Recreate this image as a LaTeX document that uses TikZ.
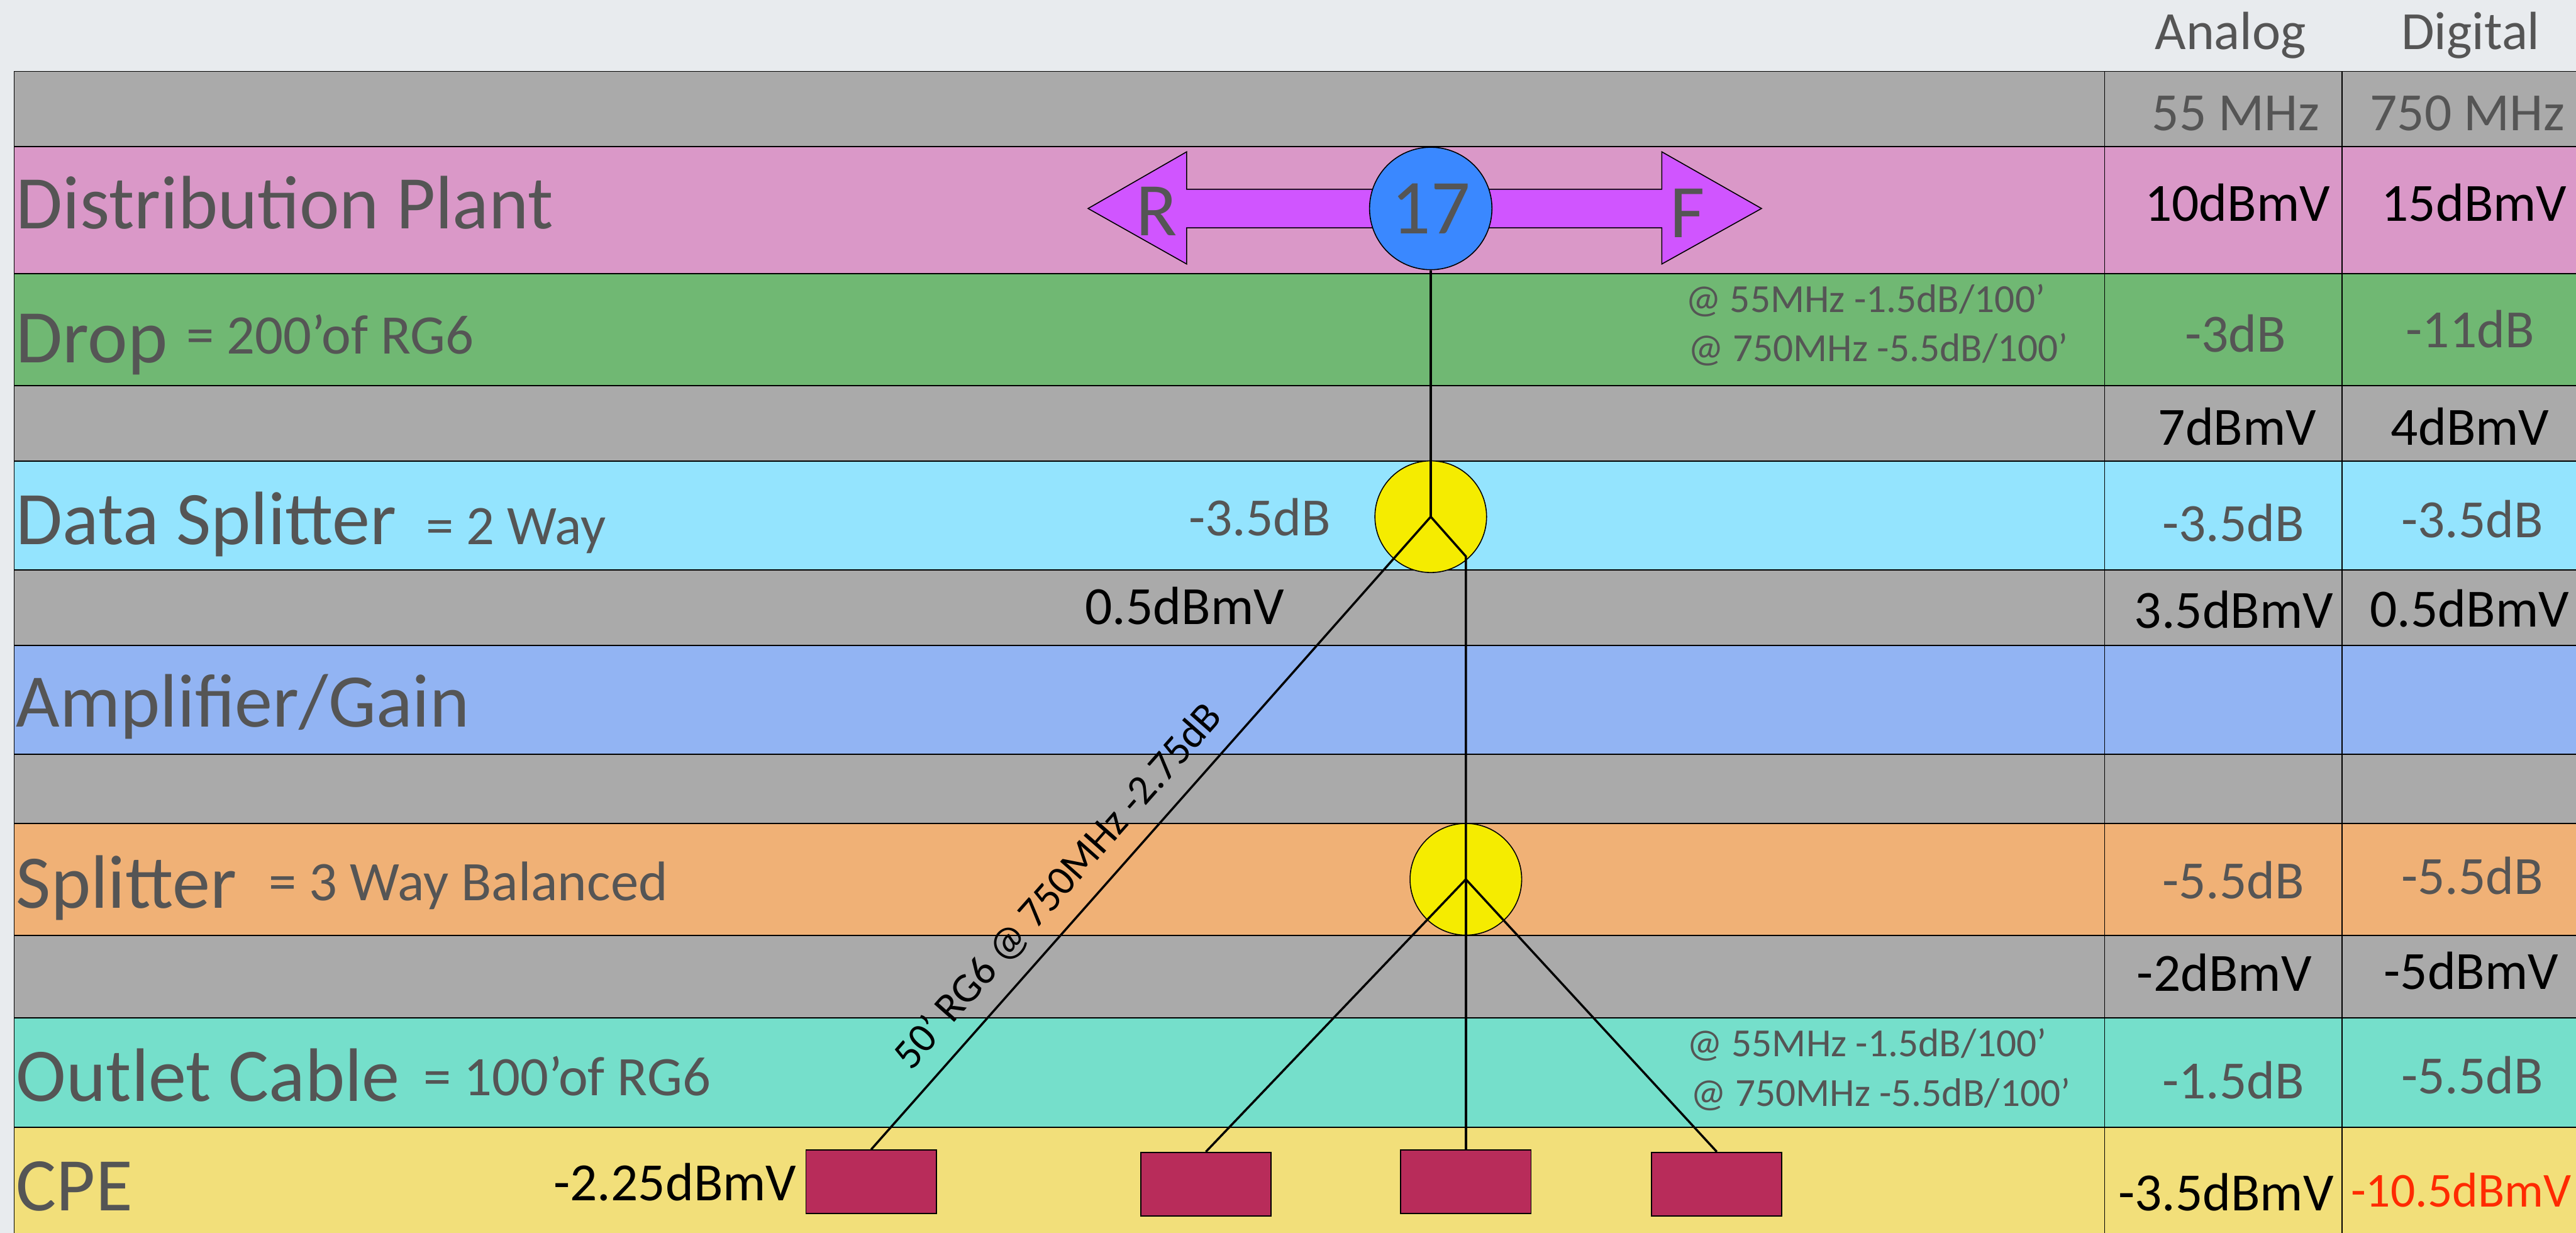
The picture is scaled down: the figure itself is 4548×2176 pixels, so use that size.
\documentclass[tikz,border=0pt]{standalone}
\usepackage{fontspec}
\setmainfont{Carlito}
\usetikzlibrary{positioning}

\definecolor{slidebg}{RGB}{232,235,238}
\definecolor{rowgray}{RGB}{170,170,170}
\definecolor{plantpink}{RGB}{218,152,200}
\definecolor{dropgreen}{RGB}{112,184,115}
\definecolor{splitcyan}{RGB}{148,228,254}
\definecolor{ampblue}{RGB}{146,180,243}
\definecolor{splitorange}{RGB}{240,177,118}
\definecolor{outletteal}{RGB}{117,223,203}
\definecolor{cpeyellow}{RGB}{242,223,122}
\definecolor{arrowviolet}{RGB}{208,85,255}
\definecolor{tapblue}{RGB}{58,136,255}
\definecolor{splityellow}{RGB}{245,236,0}
\definecolor{cpecrimson}{RGB}{184,44,90}
\definecolor{textgray}{RGB}{85,85,85}
\definecolor{warnred}{RGB}{255,42,0}

\begin{document}
\begin{tikzpicture}[x=0.01cm, y=-0.01cm,
    band/.style={draw=black, line width=0.6pt},
    rowname/.style={anchor=base west, inner sep=0pt, text=textgray, font=\fontsize{38}{40}\selectfont},
    spec/.style={inner sep=0pt, text=textgray, font=\fontsize{28}{30}\selectfont},
    dbval/.style={anchor=base, inner sep=0pt, font=\fontsize{27}{29}\selectfont},
    dbloss/.style={dbval, text=textgray},
    dbmv/.style={dbval, text=black},
    cable/.style={anchor=base west, inner sep=0pt, text=textgray, font=\fontsize{20}{22}\selectfont},
    splitter/.style={circle, draw, line width=0.5pt, fill=splityellow, minimum size=1.97cm, inner sep=0pt},
    cpe/.style={rectangle, draw, line width=0.6pt, fill=cpecrimson, minimum width=2.3cm, minimum height=1.12cm, inner sep=0pt},
    wire/.style={draw, line width=1.1pt}]

    \useasboundingbox (0,0) rectangle (4548,2176);
    \clip (0,0) rectangle (4548,2176);
    \fill[slidebg] (0,0) rectangle (4548,2176);

    % table rows
    \draw[band, fill=rowgray] (25,126) rectangle (4600,259);
    \draw[band, fill=plantpink] (25,259) rectangle (4600,483);
    \draw[band, fill=dropgreen] (25,483) rectangle (4600,681);
    \draw[band, fill=rowgray] (25,681) rectangle (4600,814);
    \draw[band, fill=splitcyan] (25,814) rectangle (4600,1006);
    \draw[band, fill=rowgray] (25,1006) rectangle (4600,1139);
    \draw[band, fill=ampblue] (25,1139) rectangle (4600,1331);
    \draw[band, fill=rowgray] (25,1331) rectangle (4600,1453);
    \draw[band, fill=splitorange] (25,1453) rectangle (4600,1651);
    \draw[band, fill=rowgray] (25,1651) rectangle (4600,1797);
    \draw[band, fill=outletteal] (25,1797) rectangle (4600,1990);
    \draw[band, fill=cpeyellow] (25,1990) rectangle (4600,2250);
    \draw[line width=0.4pt] (3716,126) -- (3716,2250);
    \draw[line width=0.4pt] (4135,126) -- (4135,2250);

    % reverse / forward arrow
    \draw[line width=0.5pt, fill=arrowviolet] (1921,368) -- (2095,268) -- (2095,334) -- (2934,334) -- (2934,268)
        -- (3110,368) -- (2934,466) -- (2934,402) -- (2095,402) -- (2095,466) -- cycle;

    \node (tap) [circle, draw, line width=0.5pt, fill=tapblue, minimum size=2.16cm, inner sep=0pt, text=textgray, font=\fontsize{39}{40}\selectfont] at (2526,368) {17};
    \node (dsplit) [splitter] at (2526,912) {};
    \node (tsplit) [splitter] at (2588,1552) {};
    \coordinate (dbend) at (2588,982);
    \node (cpe1) [cpe] at (1538,2086) {};
    \node (cpe2) [cpe] at (2129,2090) {};
    \node (cpe3) [cpe] at (2588,2086) {};
    \node (cpe4) [cpe] at (3031,2090) {};

    \draw[wire] (tap.south) -- (dsplit.center);
    \draw[wire] (dsplit.center) -- (dbend) -- (tsplit.center);
    \draw[wire] (cpe1.north) -- node[sloped, pos=0.38, above=0.28cm, inner sep=0pt, font=\fontsize{21}{22}\selectfont] {50’ RG6 @ 750MHz -2.75dB} (dsplit.center);
    \draw[wire] (tsplit.center) -- (cpe2.north);
    \draw[wire] (tsplit.center) -- (cpe3.north);
    \draw[wire] (tsplit.center) -- (cpe4.north);

    % row names
    \node (plant) [rowname] at (28,404) {Distribution Plant};
    \node (rev) [rowname] at (2005,416) {R};
    \node (fwd) [rowname] at (2948,419) {F};
    \node (drop) [rowname] at (28,640) {Drop};
    \node (dropspec) [spec, base right=0.32cm of drop, yshift=0.15cm] {= 200’of RG6};
    \node (dsname) [rowname] at (28,961) {Data Splitter};
    \node (dsspec) [spec, base right=0.5cm of dsname] {= 2 Way};
    \node (ampname) [rowname] at (28,1283) {Amplifier/Gain};
    \node (tsname) [rowname] at (28,1603) {Splitter};
    \node (tsspec) [spec, base right=0.55cm of tsname, yshift=0.13cm] {= 3 Way Balanced};
    \node (outname) [rowname] at (28,1944) {Outlet Cable};
    \node (outspec) [spec, base right=0.4cm of outname, yshift=0.1cm] {= 100’of RG6};
    \node (cpename) [rowname] at (28,2137) {CPE};

    % cable losses
    \node (dropcab1) [cable] at (2975,551) {@ 55MHz -1.5dB/100’};
    \node (dropcab2) [cable] at (2980,638) {@ 750MHz -5.5dB/100’};
    \node (outcab1) [cable] at (2978,1865) {@ 55MHz -1.5dB/100’};
    \node (outcab2) [cable] at (2984,1952) {@ 750MHz -5.5dB/100’};
    \node (dsloss) [dbloss, anchor=base west] at (2098,946) {-3.5dB};
    \node (dsout) [dbmv, anchor=base west] at (1915,1102) {0.5dBmV};
    \node (cpeleft) [dbmv, left=0.15cm of cpe1] {-2.25dBmV};

    % analog / digital columns
    \node (hdA) [dbloss] at (3938,87) {Analog};
    \node (hdB) [dbloss] at (4362,87) {Digital};
    \node (fqA) [dbloss] at (3947,230) {55 MHz};
    \node (fqB) [dbloss] at (4356,230) {750 MHz};
    \node (plantA) [dbmv] at (3950,390) {10dBmV};
    \node (plantB) [dbmv] at (4368,390) {15dBmV};
    \node (dropA) [dbloss] at (3947,621) {-3dB};
    \node (dropB) [dbloss] at (4361,614) {-11dB};
    \node (tapoutA) [dbmv] at (3950,786) {7dBmV};
    \node (tapoutB) [dbmv] at (4361,786) {4dBmV};
    \node (dsA) [dbloss] at (3943,956) {-3.5dB};
    \node (dsB) [dbloss] at (4365,949) {-3.5dB};
    \node (dsoutA) [dbmv] at (3944,1109) {3.5dBmV};
    \node (dsoutB) [dbmv] at (4360,1107) {0.5dBmV};
    \node (tsA) [dbloss] at (3943,1586) {-5.5dB};
    \node (tsB) [dbloss] at (4365,1578) {-5.5dB};
    \node (tsoutA) [dbmv] at (3927,1749) {-2dBmV};
    \node (tsoutB) [dbmv] at (4363,1746) {-5dBmV};
    \node (outA) [dbloss] at (3943,1939) {-1.5dB};
    \node (outB) [dbloss] at (4365,1930) {-5.5dB};
    \node (cpeA) [dbmv] at (3930,2137) {-3.5dBmV};
    \node (cpeB) [dbmv, text=warnred, font=\fontsize{24.5}{26}\selectfont] at (4345,2130) {-10.5dBmV};
\end{tikzpicture}
\end{document}
